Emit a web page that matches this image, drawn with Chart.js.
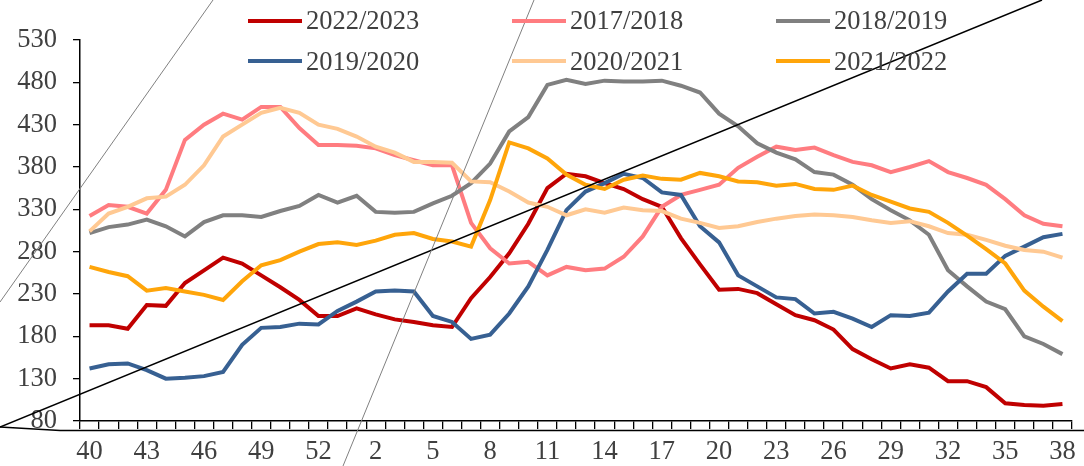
<!DOCTYPE html>
<html>
<head>
<meta charset="utf-8">
<script src="https://cdn.jsdelivr.net/npm/chart.js@4.4.1/dist/chart.umd.min.js"></script>
<style>
html,body{margin:0;padding:0;background:#fff;}
#wrap{position:relative;width:1084px;height:466px;overflow:hidden;}
#c{position:absolute;left:0;top:0;}
.item{position:absolute;display:flex;align-items:center;height:40px;font-family:"Liberation Serif","Times New Roman",serif;font-size:26.5px;color:#404040;white-space:nowrap;}
.item i{display:inline-block;width:54px;height:4px;margin-right:4px;}
</style>
</head>
<body>
<div id="wrap">
<canvas id="c" width="1084" height="466"></canvas>
<div id="legend"></div>
</div>
<script>
// Categories: week numbers (season from week 40 to week 38 of next year)
const weeks = [40,41,42,43,44,45,46,47,48,49,50,51,52,53,
  1,2,3,4,5,6,7,8,9,10,11,12,13,14,15,16,17,18,19,20,21,22,23,24,25,26,27,28,29,30,31,32,33,34,35,36,37,38];

const s2022_2023 = [193,193,189,217,216,243,258,273,266,252,238,223,204,204,
  213,206,200,197,193,191,225,250,278,313,355,372,369,361,354,342,333,296,265,235,236,231,218,205,199,188,165,153,142,147,143,127,127,120,101,99,98,100];
const s2017_2018 = [322,335,333,325,353,412,430,443,436,451,451,426,406,406,
  405,402,394,388,382,382,314,284,266,268,252,262,258,260,274,298,333,347,353,359,379,392,404,400,403,394,386,382,374,380,387,374,367,359,342,323,313,310];
const s2018_2019 = [302,309,312,318,310,298,315,323,323,321,328,334,347,338,
  346,327,326,327,337,346,361,384,422,439,477,483,478,482,481,481,482,476,468,443,428,408,397,389,374,371,359,342,329,317,300,258,239,221,212,180,171,159];
const s2019_2020 = [142,147,148,140,130,131,133,138,170,190,191,195,194,210,
  221,233,234,233,204,197,177,182,207,239,282,329,351,361,372,367,350,347,310,291,252,239,226,224,207,209,201,191,205,204,208,233,254,254,275,286,297,301];
const s2020_2021 = [304,325,333,343,345,359,382,416,430,444,450,444,430,425,
  416,404,397,386,386,385,363,362,351,338,333,323,330,326,332,329,328,319,314,308,310,315,319,322,324,323,321,317,314,316,310,302,300,294,287,282,280,273];
const s2021_2022 = [262,256,251,234,237,233,229,223,245,264,270,280,289,291,
  288,293,300,302,295,292,286,341,409,402,390,371,359,354,365,370,366,365,373,369,363,362,358,360,354,353,358,347,339,331,327,314,299,283,266,234,215,198];

const seriesNames = ["2022/2023","2017/2018","2018/2019","2019/2020","2020/2021","2021/2022"];
const seriesData = [s2022_2023, s2017_2018, s2018_2019, s2019_2020, s2020_2021, s2021_2022];
const seriesColors = ["#C00000","#FF7C80","#808080","#376092","#FFC993","#FFA50A"];

const yMin = 80, yMax = 530, yStep = 50;

const FONT = {family: '"Liberation Serif","Times New Roman",serif', size: 26.5};
const TXT = '#404040';

// HTML legend (3 columns x 2 rows)
const legendPos = [[248,0.5],[512,0.5],[776,0.5],[248,41],[512,41],[776,41]];
const lg = document.getElementById('legend');
seriesNames.forEach((n,i)=>{
  const d = document.createElement('div');
  d.className='item';
  d.style.left = legendPos[i][0]+'px';
  d.style.top = legendPos[i][1]+'px';
  const sw = document.createElement('i');
  sw.style.background = seriesColors[i];
  d.appendChild(sw);
  d.appendChild(document.createTextNode(n));
  lg.appendChild(d);
});

// Stray drawing-shape lines present on the original figure
const decorations = {
  id: 'decorations',
  afterDraw(chart){
    const ctx = chart.ctx;
    ctx.save();
    ctx.lineCap = 'butt';
    ctx.strokeStyle = '#000';
    ctx.lineWidth = 1.5;
    ctx.beginPath(); ctx.moveTo(0,427); ctx.lineTo(1042,0); ctx.stroke();
    ctx.beginPath(); ctx.moveTo(0,427); ctx.lineTo(60,430.5); ctx.lineTo(1084,430.5); ctx.stroke();
    ctx.strokeStyle = '#808080';
    ctx.lineWidth = 1;
    ctx.beginPath(); ctx.moveTo(0,302); ctx.lineTo(213,0); ctx.stroke();
    ctx.beginPath(); ctx.moveTo(534,0); ctx.lineTo(343,466); ctx.stroke();
    ctx.restore();
  }
};

new Chart(document.getElementById('c'), {
  type: 'line',
  data: {
    labels: weeks,
    datasets: seriesData.map((d,i)=>({
      label: seriesNames[i],
      data: d,
      borderColor: seriesColors[i],
      backgroundColor: seriesColors[i],
      borderWidth: 4,
      pointRadius: 0,
      tension: 0,
      fill: false,
      order: seriesData.length - i
    }))
  },
  options: {
    responsive: false,
    animation: false,
    events: [],
    layout: {padding: {top: 40, right: 12, left: 0, bottom: 0}},
    plugins: {legend: {display: false}, tooltip: {enabled: false}},
    scales: {
      x: {
        offset: true,
        grid: {offset: true, drawOnChartArea: false, drawTicks: true, tickLength: 8, color: '#000', lineWidth: 1.3},
        border: {display: true, color: '#000', width: 1.5},
        ticks: {
          autoSkip: false, maxRotation: 0, minRotation: 0, padding: 7,
          color: TXT, font: FONT,
          callback: function(v, idx){ return idx % 3 === 0 ? String(weeks[idx]) : ''; }
        },
        afterFit: function(s){ s.height = 45; }
      },
      y: {
        min: yMin, max: yMax,
        grid: {drawOnChartArea: false, drawTicks: true, tickLength: 7, color: '#000', lineWidth: 1.3},
        border: {display: true, color: '#000', width: 1.5},
        ticks: {stepSize: yStep, padding: 16, color: TXT, font: FONT},
        afterFit: function(s){ s.width = 80; }
      }
    }
  },
  plugins: [decorations]
});
</script>
</body>
</html>
